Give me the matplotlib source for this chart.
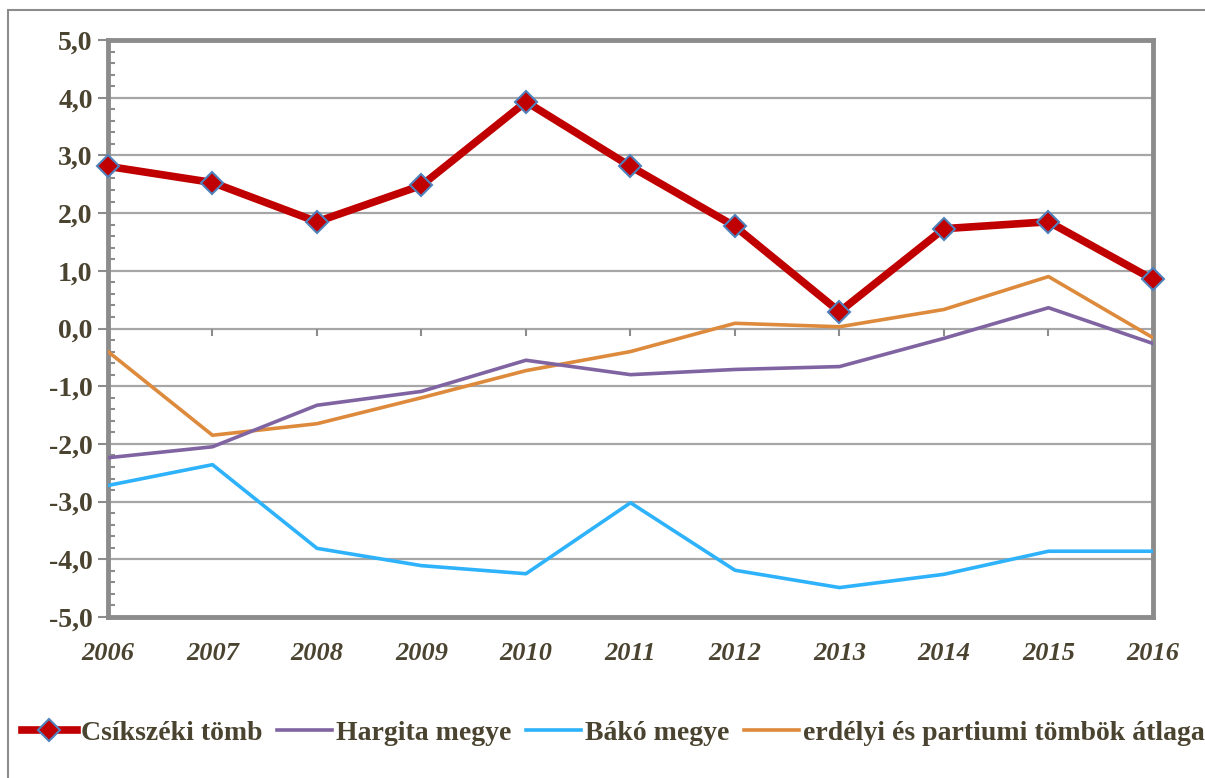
import numpy as np
import matplotlib.pyplot as plt
from matplotlib.ticker import MultipleLocator
from matplotlib.patches import Rectangle

years = [2006, 2007, 2008, 2009, 2010, 2011, 2012, 2013, 2014, 2015, 2016]
csik = [2.81, 2.53, 1.85, 2.48, 3.93, 2.81, 1.77, 0.29, 1.73, 1.85, 0.85]
hargita = [-2.24, -2.05, -1.33, -1.09, -0.55, -0.80, -0.71, -0.66, -0.17, 0.36, -0.26]
bako = [-2.72, -2.36, -3.81, -4.11, -4.25, -3.02, -4.19, -4.49, -4.26, -3.86, -3.86]
erdely = [-0.40, -1.85, -1.65, -1.20, -0.73, -0.40, 0.09, 0.03, 0.33, 0.90, -0.16]
labels = ["Csíkszéki tömb", "Hargita megye", "Bákó megye", "erdélyi és partiumi tömbök átlaga"]

txt = "#4a4330"
plt.rcParams["font.family"] = ["Liberation Serif", "DejaVu Serif"]

fig = plt.figure(figsize=(12.05, 7.78), dpi=100)
ax = fig.add_axes([108 / 1205, 1 - 617 / 778, (1153 - 108) / 1205, (617 - 40) / 778])

# outer chart border
fig.patches.append(Rectangle((8 / 1205, -0.1), 1.2, 1 - 10 / 778 + 0.1, transform=fig.transFigure,
                             fill=False, edgecolor="#8c8c8c", lw=1.5))

ax.grid(axis="y", color="#a6a6a6", lw=1.6)
ax.set_axisbelow(True)
ax.vlines(years, -0.13, 0, color="#8c8c8c", lw=1.5, zorder=1)

ax.plot(years, erdely, color="#dd8a3c", lw=2.6, label=labels[3], zorder=3)
ax.plot(years, bako, color="#2eb2fb", lw=2.6, label=labels[2], zorder=3)
ax.plot(years, hargita, color="#8064a2", lw=2.6, label=labels[1], zorder=3)
ax.plot(years, csik, color="#c00000", lw=5.5, marker="D", ms=11, mfc="#c00000",
        mec="#4f81bd", mew=1.5, label=labels[0], zorder=4, clip_on=False)

ax.set_xlim(2006, 2016)
ax.set_ylim(-5, 5)
ax.set_xticks(years)
ax.set_xticklabels([str(y) for y in years], fontsize=19, fontweight="bold", fontstyle="italic", color=txt)
ax.set_yticks(np.arange(-5, 6, 1))
ax.set_yticklabels([f"{v:.1f}".replace(".", ",") for v in np.arange(-5, 6, 1)],
                   fontsize=20, fontweight="bold", color=txt)
ax.yaxis.set_minor_locator(MultipleLocator(0.2))
ax.tick_params(axis="x", length=0, pad=18)
ax.tick_params(axis="y", which="major", length=7, width=1.5, color="#8c8c8c", direction="out", pad=4)
ax.tick_params(axis="y", which="minor", length=5, width=1.5, color="#8c8c8c", direction="in")
for s in ax.spines.values():
    s.set_color("#8c8c8c")
    s.set_linewidth(3.5)

h, l = ax.get_legend_handles_labels()
order = [3, 2, 1, 0]
fig.legend([h[i] for i in order], [l[i] for i in order], loc="center", bbox_to_anchor=(0.509, 1 - 733 / 778),
           ncol=4, frameon=False, handlelength=2.0, handletextpad=0.15, columnspacing=0.5,
           prop={"size": 20, "weight": "bold"}, labelcolor=txt)

fig.savefig("out.png", dpi=100)
